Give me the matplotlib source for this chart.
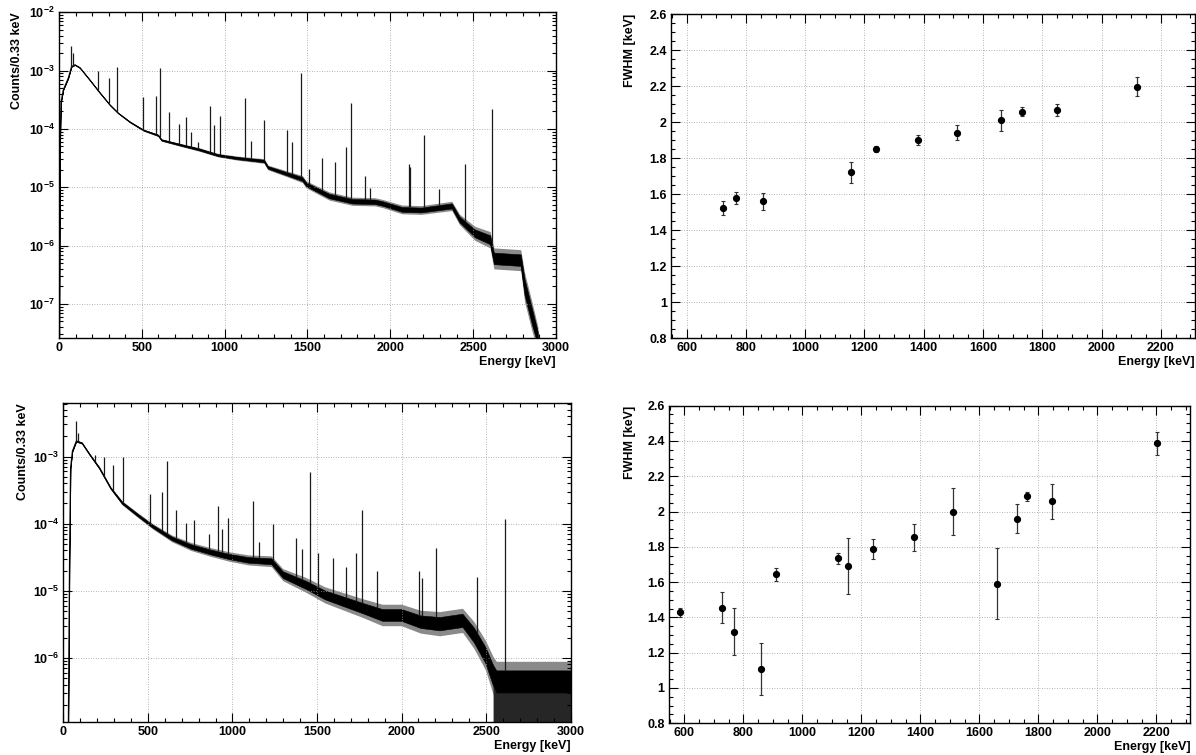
import numpy as np
import matplotlib.pyplot as plt
from matplotlib.ticker import MultipleLocator, LogLocator, NullFormatter, FuncFormatter

plt.rcParams['font.family'] = ['Liberation Sans', 'DejaVu Sans']
plt.rcParams['font.weight'] = 'bold'
plt.rcParams['mathtext.fontset'] = 'custom'
plt.rcParams['mathtext.bf'] = 'Liberation Sans:bold'
plt.rcParams['mathtext.rm'] = 'Liberation Sans:bold'
plt.rcParams['axes.linewidth'] = 1.0

# --- spectrum 1 (top left): continuum as log10(counts), noise half width in decades
tl_e = [2, 6, 12, 26, 56, 76, 96, 126, 186, 247, 308, 358, 428, 509, 599, 619,
        729, 844, 960, 1076, 1238, 1261, 1376, 1469, 1492, 1631, 1770, 1908,
        1955, 2070, 2186, 2371, 2417, 2510, 2602, 2625, 2787, 2810, 2856, 2891]
tl_log = [-7.6, -4.4, -3.55, -3.33, -3.13, -2.93, -2.90, -2.95, -3.16, -3.38,
          -3.59, -3.73, -3.88, -4.02, -4.11, -4.19, -4.27, -4.35, -4.45, -4.50,
          -4.55, -4.66, -4.77, -4.86, -4.95, -5.15, -5.24, -5.25, -5.28, -5.38,
          -5.39, -5.32, -5.55, -5.79, -5.90, -6.22, -6.25, -6.71, -7.23, -7.6]
tl_hw = [0.0, 0.0, 0.01, 0.01, 0.01, 0.01, 0.01, 0.01, 0.01, 0.01, 0.01, 0.01,
         0.012, 0.015, 0.02, 0.02, 0.025, 0.03, 0.03, 0.035, 0.04, 0.04, 0.05,
         0.06, 0.06, 0.07, 0.07, 0.07, 0.07, 0.075, 0.075, 0.08, 0.09, 0.12,
         0.14, 0.18, 0.18, 0.25, 0.25, 0.2]
tl_pk_e = [74, 83, 238, 300, 350, 509, 583, 609, 662, 724, 768, 798, 837, 909,
           937, 969, 1120, 1157, 1238, 1377, 1408, 1461, 1509, 1588, 1665, 1730,
           1764, 1846, 1875, 2110, 2118, 2204, 2293, 2448, 2614]
tl_pk_log = [-2.58, -2.69, -3.0, -3.12, -2.94, -3.46, -3.43, -2.95, -3.71, -3.92,
             -3.80, -4.05, -4.23, -3.60, -3.94, -3.78, -3.47, -4.20, -3.84, -4.02,
             -4.23, -3.04, -4.69, -4.49, -4.57, -4.31, -3.56, -4.80, -5.01, -4.60,
             -4.66, -4.10, -5.03, -4.60, -3.65]

# --- spectrum 2 (bottom left)
bl_e = [30, 37, 43, 54, 77, 111, 156, 213, 280, 348, 439, 529, 642, 755, 868,
        981, 1094, 1230, 1298, 1433, 1546, 1659, 1773, 1886, 1999, 2112, 2225,
        2360, 2428, 2496, 2541, 2560, 3000]
bl_log = [-6.96, -4.5, -3.17, -2.92, -2.77, -2.80, -2.97, -3.17, -3.47, -3.69,
          -3.87, -4.04, -4.22, -4.34, -4.42, -4.49, -4.54, -4.56, -4.76, -4.91,
          -5.06, -5.16, -5.26, -5.36, -5.36, -5.46, -5.49, -5.44, -5.66, -5.96,
          -6.26, -6.35, -6.35]
bl_hw = [0.0, 0.0, 0.015, 0.015, 0.015, 0.015, 0.015, 0.02, 0.02, 0.03, 0.035,
         0.04, 0.05, 0.06, 0.065, 0.07, 0.075, 0.08, 0.09, 0.11, 0.12, 0.13,
         0.14, 0.16, 0.16, 0.17, 0.18, 0.18, 0.2, 0.22, 0.28, 0.3, 0.3]
bl_pk_e = [77, 88, 185, 242, 296, 353, 513, 583, 613, 665, 728, 773, 861, 913,
           938, 972, 1121, 1158, 1239, 1377, 1413, 1461, 1506, 1592, 1671, 1732,
           1764, 1852, 2105, 2120, 2202, 2446, 2614]
bl_pk_log = [-2.47, -2.65, -2.97, -3.0, -3.12, -3.01, -3.56, -3.53, -3.06, -3.79,
             -3.99, -3.94, -4.16, -3.73, -4.08, -3.91, -3.66, -4.27, -4.0, -4.22,
             -4.37, -3.23, -4.44, -4.51, -4.65, -4.44, -3.79, -4.71, -4.71, -4.81,
             -4.36, -4.79, -3.93]

# --- FWHM vs energy, top right
tr_e = [723, 768, 859, 1154, 1239, 1380, 1511, 1662, 1730, 1851, 2120]
tr_fwhm = [1.520, 1.577, 1.559, 1.720, 1.849, 1.901, 1.941, 2.010, 2.058, 2.065, 2.197]
tr_err = [0.039, 0.034, 0.047, 0.056, 0.018, 0.026, 0.040, 0.058, 0.025, 0.033, 0.052]

# --- FWHM vs energy, bottom right
br_e = [585, 727, 768, 861, 912, 1120, 1156, 1239, 1377, 1509, 1659, 1727,
        1763, 1846, 2201]
br_fwhm = [1.429, 1.455, 1.319, 1.108, 1.644, 1.735, 1.690, 1.788, 1.854,
           1.999, 1.591, 1.960, 2.086, 2.058, 2.387]
br_err = [0.027, 0.088, 0.133, 0.147, 0.036, 0.030, 0.160, 0.058, 0.076,
          0.134, 0.200, 0.081, 0.024, 0.100, 0.066]

TICK = 9
LABEL = 9


def style_axes(ax):
    ax.tick_params(which='both', direction='in', top=True, right=True,
                   labelsize=TICK, pad=3, width=0.8)
    ax.tick_params(which='major', length=6.5)
    ax.tick_params(which='minor', length=3.2)
    ax.grid(True, which='major', color='#9a9a9a', linestyle=(0, (1, 2)), linewidth=0.6)
    for lab in ax.get_xticklabels() + ax.get_yticklabels():
        lab.set_fontweight('bold')


def draw_spectrum(ax, e, lg, hw, pk_e, pk_log, ylim, ylab_x, deep=None):
    e = np.array(e, float)
    lg = np.array(lg, float)
    hw = np.array(hw, float)
    # outer fringe of the noise (grey), dense core (black)
    ax.fill_between(e, 10 ** (lg - hw), 10 ** (lg + hw), color='#8a8a8a', linewidth=0)
    if deep is not None:
        # sparse low-count region: bins hitting the bottom of the axis
        m = e >= deep
        ax.fill_between(e[m], ylim[0], 10 ** (lg[m] - 0.55 * hw[m]),
                        color='#262626', linewidth=0)
    ax.fill_between(e, 10 ** (lg - 0.55 * hw), 10 ** (lg + 0.55 * hw),
                    color='black', linewidth=0.4)
    ax.plot(e, 10 ** lg, color='black', linewidth=0.8)
    base = 10 ** (np.interp(pk_e, e, lg) + 0.5 * np.interp(pk_e, e, hw))
    ax.vlines(pk_e, base, 10 ** np.array(pk_log), color='#1a1a1a', linewidth=0.9)
    ax.set_yscale('log')
    ax.set_xlim(0, 3000)
    ax.set_ylim(*ylim)
    ax.xaxis.set_major_locator(MultipleLocator(500))
    ax.xaxis.set_minor_locator(MultipleLocator(100))
    ax.yaxis.set_major_locator(LogLocator(base=10, numticks=20))
    ax.yaxis.set_minor_locator(LogLocator(base=10, subs=np.arange(2, 10), numticks=20))
    ax.yaxis.set_minor_formatter(NullFormatter())
    ax.yaxis.set_major_formatter(FuncFormatter(
        lambda v, p: r'$\mathbf{10^{%d}}$' % int(round(np.log10(v)))))
    style_axes(ax)
    ax.set_xlabel('Energy [keV]', loc='right', fontsize=LABEL, fontweight='bold', labelpad=1)
    ax.set_ylabel('Counts/0.33 keV', loc='top', fontsize=LABEL, fontweight='bold')
    ax.yaxis.set_label_coords(ylab_x, 1.0)


def draw_fwhm(ax, x, y, err, ylab_x):
    ax.errorbar(x, y, yerr=err, fmt='o', color='black', markersize=4.2,
                elinewidth=0.9, capsize=1.5, capthick=0.8, ecolor='#333333')
    ax.set_xlim(547, 2315)
    ax.set_ylim(0.8, 2.6)
    ax.xaxis.set_major_locator(MultipleLocator(200))
    ax.xaxis.set_minor_locator(MultipleLocator(50))
    ax.yaxis.set_major_locator(MultipleLocator(0.2))
    ax.yaxis.set_minor_locator(MultipleLocator(0.05))
    ax.yaxis.set_major_formatter(FuncFormatter(lambda v, p: '%g' % round(v, 2)))
    style_axes(ax)
    ax.set_xlabel('Energy [keV]', loc='right', fontsize=LABEL, fontweight='bold', labelpad=1)
    ax.set_ylabel('FWHM [keV]', loc='top', fontsize=LABEL, fontweight='bold')
    ax.yaxis.set_label_coords(ylab_x, 1.0)


fig = plt.figure(figsize=(11.96, 7.55), dpi=100)

ax1 = fig.add_axes([0.0493, 0.5523, 0.4156, 0.4314])
draw_spectrum(ax1, tl_e, tl_log, tl_hw, tl_pk_e, tl_pk_log, (2.6e-8, 1e-2), -0.072)

ax2 = fig.add_axes([0.5610, 0.5523, 0.4381, 0.4291])
draw_fwhm(ax2, tr_e, tr_fwhm, tr_err, -0.067)

ax3 = fig.add_axes([0.0529, 0.0433, 0.4243, 0.4225])
draw_spectrum(ax3, bl_e, bl_log, bl_hw, bl_pk_e, bl_pk_log, (1.1e-7, 6.2e-3), -0.067, deep=2540)

ax4 = fig.add_axes([0.5592, 0.0420, 0.4360, 0.4207])
draw_fwhm(ax4, br_e, br_fwhm, br_err, -0.063)

fig.savefig('out.png', dpi=100)
